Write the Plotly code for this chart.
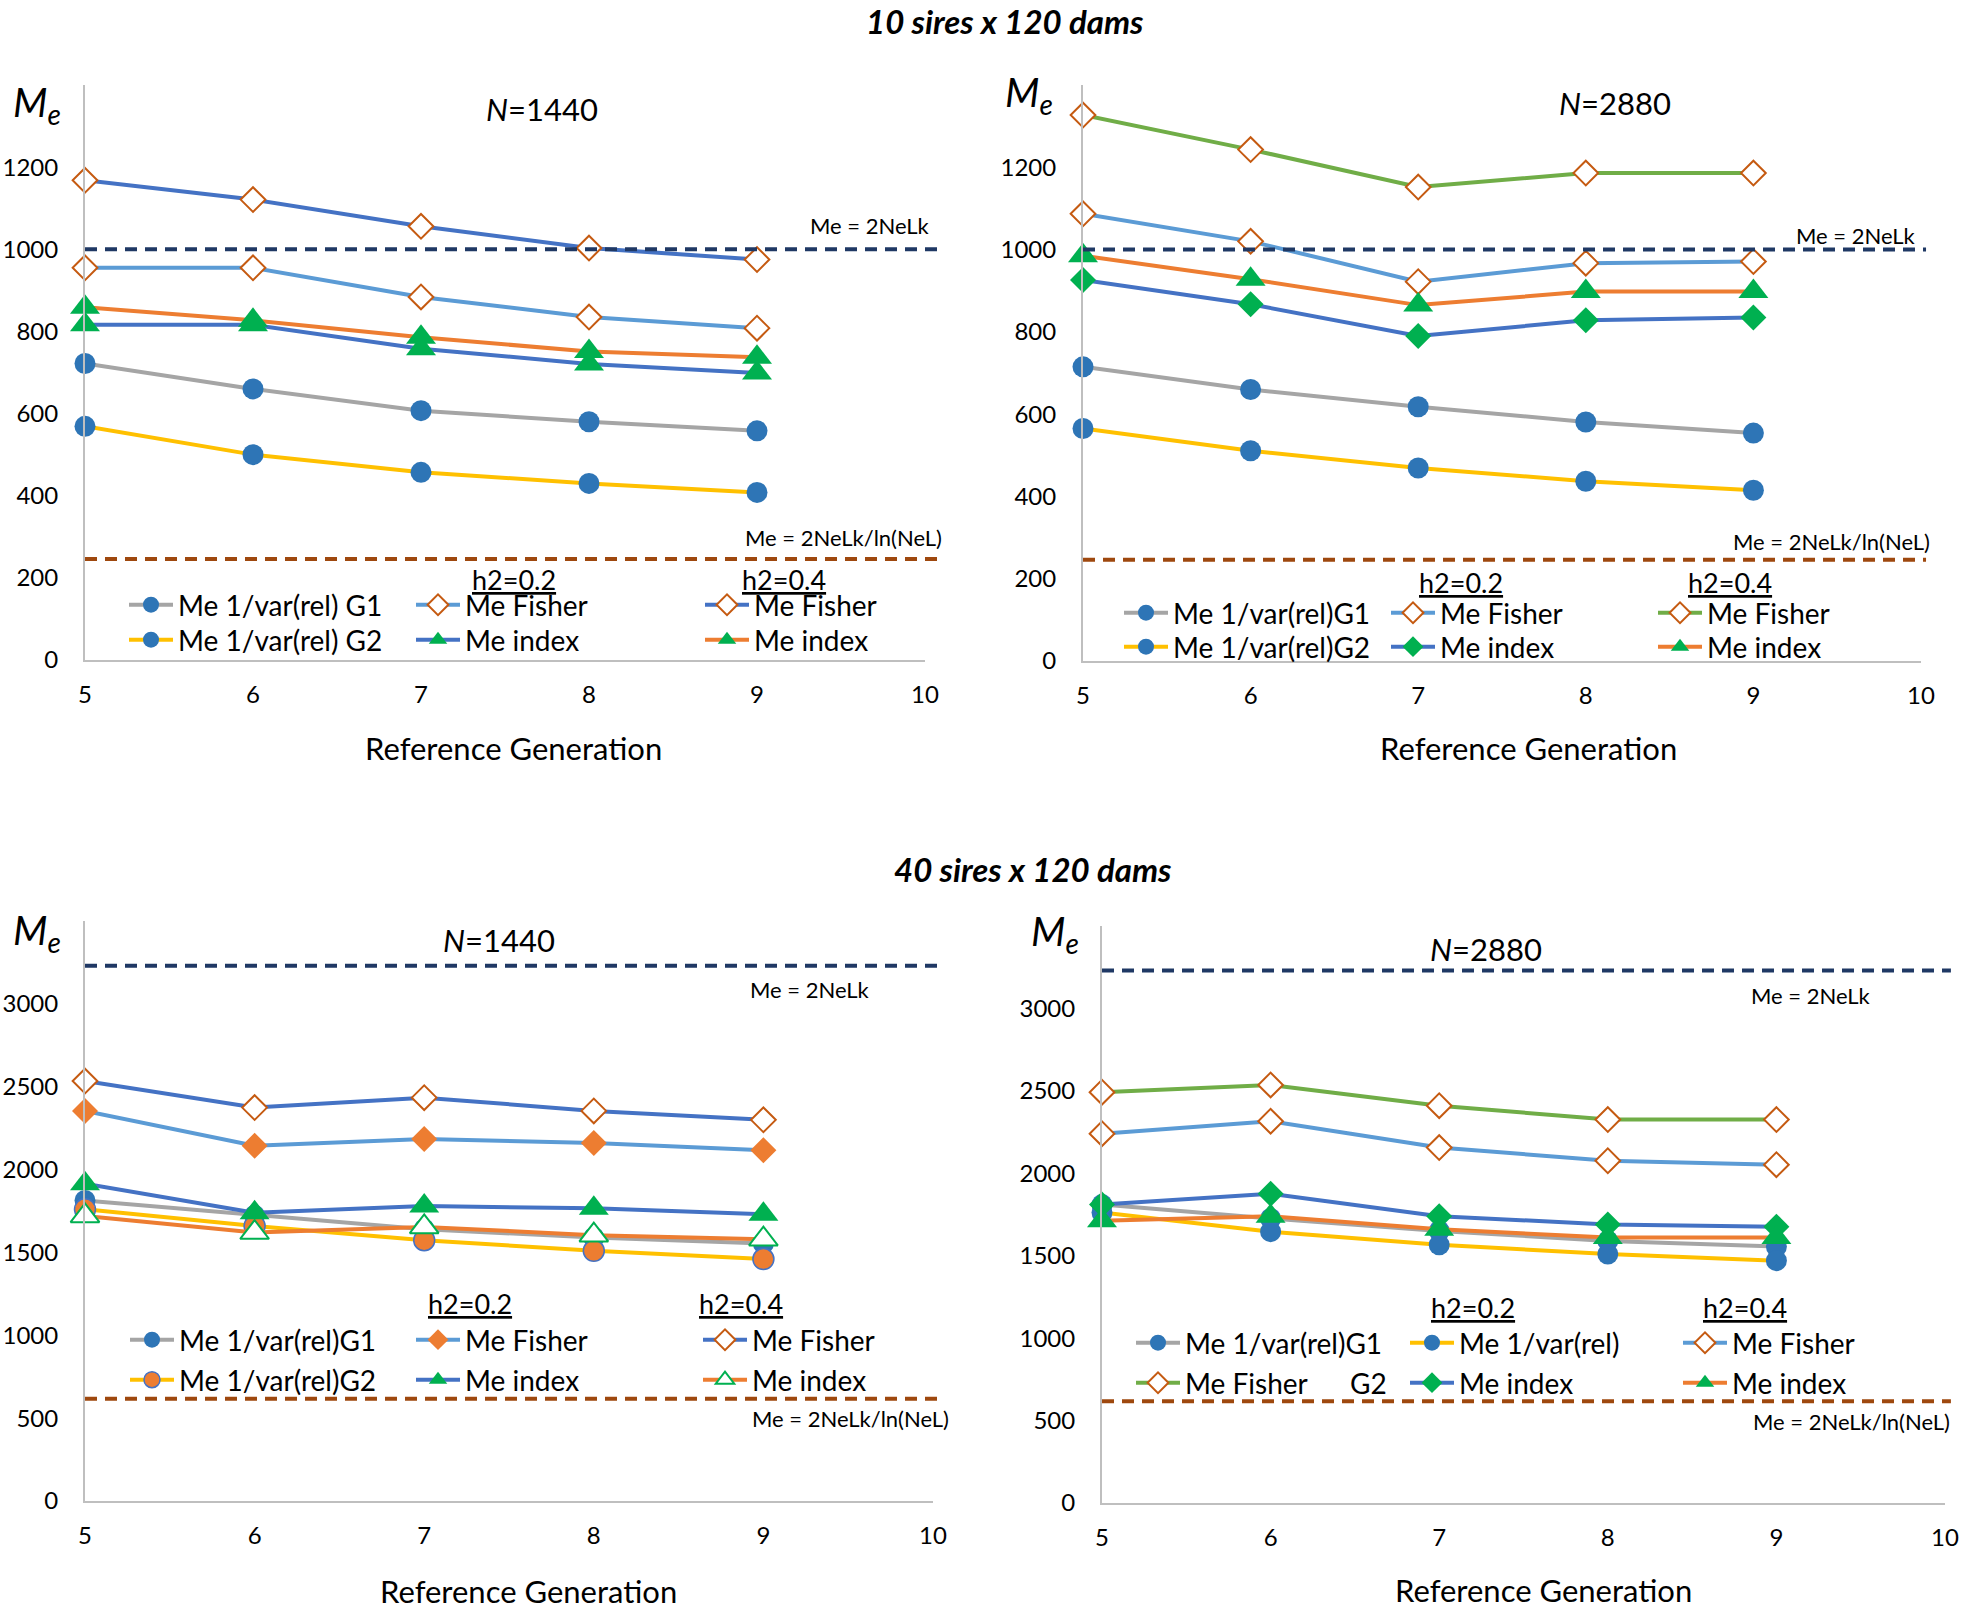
import plotly.graph_objects as go

# ---------------- data ----------------
GEN = [5, 6, 7, 8, 9]
X_TICKS = [5, 6, 7, 8, 9, 10]
TOP_Y_TICKS = [0, 200, 400, 600, 800, 1000, 1200]
LOW_Y_TICKS = [0, 500, 1000, 1500, 2000, 2500, 3000]

# Panel A: 10 sires x 120 dams, N=1440
A_G1 = [722, 660, 607, 580, 558]
A_G2 = [569, 500, 457, 430, 408]
A_F02 = [955, 955, 884, 835, 808]
A_I02 = [816, 816, 758, 721, 699]
A_F04 = [1168, 1121, 1056, 1003, 975]
A_I04 = [859, 827, 786, 751, 737]
A_REF = [1000, 246]

# Panel B: 10 sires x 120 dams, N=2880
B_G1 = [715, 660, 618, 581, 554]
B_G2 = [565, 511, 469, 437, 415]
B_F02 = [1087, 1020, 922, 967, 971]
B_I02 = [926, 867, 790, 828, 835]
B_F04 = [1327, 1243, 1152, 1186, 1186]
B_I04 = [985, 928, 865, 898, 898]
B_REF = [1000, 246]

# Panel C: 40 sires x 120 dams, N=1440
C_G1 = [1814, 1724, 1640, 1590, 1554]
C_G2 = [1760, 1660, 1574, 1510, 1460]
C_F02 = [2354, 2144, 2184, 2160, 2116]
C_I02 = [1914, 1740, 1780, 1766, 1730]
C_F04 = [2534, 2374, 2434, 2354, 2300]
C_I04 = [1720, 1620, 1654, 1604, 1580]
C_REF = [3230, 617]

# Panel D: 40 sires x 120 dams, N=2880
D_G1 = [1810, 1726, 1650, 1590, 1556]
D_G2 = [1762, 1646, 1566, 1510, 1470]
D_F02 = [2240, 2316, 2156, 2076, 2052]
D_I02 = [1810, 1876, 1740, 1690, 1676]
D_F04 = [2492, 2536, 2410, 2326, 2326]
D_I04 = [1712, 1740, 1660, 1610, 1610]
D_REF = [3230, 617]

# ---------------- style ----------------
FONT = "Lato"
GRAY = "#A5A5A5"
GOLD = "#FFC000"
LBLUE = "#5B9BD5"
BLUE = "#4472C4"
ORANGE = "#ED7D31"
LGREEN = "#70AD47"
MBLUE = "#2E75B6"
MGREEN = "#00B050"
DEDGE = "#C55A11"
NAVY = "#1F3864"
BROWN = "#9E480E"
AXIS = "#BFBFBF"

W, H, OFF = 1961, 1612, 0


def X(p):
    return (p - OFF) / W


def Y(p):
    return 1 - (p - OFF) / H


circ = dict(symbol="circle", size=21, color=MBLUE, line=dict(width=0))
circ_or = dict(symbol="circle", size=21, color=ORANGE, line=dict(color=BLUE, width=1.5))
dia_open = dict(symbol="diamond", size=19, color="white", line=dict(color=DEDGE, width=2))
dia_or = dict(symbol="diamond", size=20, color=ORANGE, line=dict(width=0))
dia_gr = dict(symbol="diamond", size=20, color=MGREEN, line=dict(width=0))
tri = dict(symbol="triangle-up", size=26, color=MGREEN, line=dict(width=0))
tri_open = dict(symbol="triangle-up", size=25, color="white", line=dict(color=MGREEN, width=2))

LEG_FS = 28
TICK_FS = 24

fig = go.Figure()
layout_legends = {}
leg_counter = [0]


def add_series(ax, ys, name, lcolor, marker, text_x, row_y):
    leg_counter[0] += 1
    n = leg_counter[0]
    lid = "legend" if n == 1 else f"legend{n}"
    fig.add_trace(go.Scatter(
        x=GEN, y=ys, name=name, mode="lines+markers",
        line=dict(color=lcolor, width=4),
        marker=marker, xaxis="x" + ax, yaxis="y" + ax,
        legend=lid, showlegend=True, cliponaxis=False,
    ))
    layout_legends[lid] = dict(
        x=X(text_x - 54), y=Y(row_y - 24), xanchor="left", yanchor="top",
        bgcolor="rgba(0,0,0,0)", borderwidth=0, itemwidth=44,
        font=dict(family=FONT, size=LEG_FS, color="black"),
    )


# Panel A
add_series("", A_G1, "Me 1/var(rel) G1", GRAY, circ, 178, 604)
add_series("", A_G2, "Me 1/var(rel) G2", GOLD, circ, 178, 639)
add_series("", A_F02, "Me Fisher", LBLUE, dia_open, 465, 604)
add_series("", A_I02, "Me index", BLUE, tri, 465, 639)
add_series("", A_F04, "Me Fisher", BLUE, dia_open, 754, 604)
add_series("", A_I04, "Me index", ORANGE, tri, 754, 639)

# Panel B
add_series("2", B_G1, "Me 1/var(rel)G1", GRAY, circ, 1173, 612)
add_series("2", B_G2, "Me 1/var(rel)G2", GOLD, circ, 1173, 646)
add_series("2", B_F02, "Me Fisher", LBLUE, dia_open, 1440, 612)
add_series("2", B_I02, "Me index", BLUE, dia_gr, 1440, 646)
add_series("2", B_F04, "Me Fisher", LGREEN, dia_open, 1707, 612)
add_series("2", B_I04, "Me index", ORANGE, tri, 1707, 646)

# Panel C
add_series("3", C_G1, "Me 1/var(rel)G1", GRAY, circ, 179, 1339)
add_series("3", C_G2, "Me 1/var(rel)G2", GOLD, circ_or, 179, 1379)
add_series("3", C_F02, "Me Fisher", LBLUE, dia_or, 465, 1339)
add_series("3", C_I02, "Me index", BLUE, tri, 465, 1379)
add_series("3", C_F04, "Me Fisher", BLUE, dia_open, 752, 1339)
add_series("3", C_I04, "Me index", ORANGE, tri_open, 752, 1379)

# Panel D
add_series("4", D_G1, "Me 1/var(rel)G1", GRAY, circ, 1185, 1342)
add_series("4", D_G2, "Me 1/var(rel)", GOLD, circ, 1459, 1342)
add_series("4", D_F02, "Me Fisher", LBLUE, dia_open, 1732, 1342)
add_series("4", D_F04, "Me Fisher", LGREEN, dia_open, 1185, 1382)
add_series("4", D_I02, "Me index", BLUE, dia_gr, 1459, 1382)
add_series("4", D_I04, "Me index", ORANGE, tri, 1732, 1382)


def xaxis(domain, anchor):
    return dict(domain=domain, anchor=anchor, range=[5, 10], tickvals=X_TICKS,
                showline=True, linecolor=AXIS, linewidth=2, ticks="",
                showgrid=False, zeroline=False, ticklabelstandoff=12,
                automargin=False,
                tickfont=dict(family=FONT, size=TICK_FS, color="black"))


def yaxis(domain, anchor, rng, tv):
    return dict(domain=domain, anchor=anchor, range=rng, tickvals=tv,
                showline=True, linecolor=AXIS, linewidth=2, ticks="",
                showgrid=False, zeroline=False, ticklabelstandoff=20,
                automargin=False,
                tickfont=dict(family=FONT, size=TICK_FS, color="black"))


shapes = []


def ref_lines(ax, refs, x1):
    for val, col in zip(refs, [NAVY, BROWN]):
        shapes.append(dict(type="line", xref=("x" + ax + " domain"), yref="y" + ax,
                           x0=0, x1=x1, y0=val, y1=val,
                           line=dict(color=col, width=4, dash="12px,8px")))


ref_lines("", A_REF, 1.018)
ref_lines("2", B_REF, 1.006)
ref_lines("3", C_REF, 1.006)
ref_lines("4", D_REF, 1.007)

annotations = []


def ann(text, x, y, size):
    annotations.append(dict(text=text, x=X(x), y=Y(y), xref="paper", yref="paper",
                            xanchor="center", yanchor="middle", showarrow=False,
                            font=dict(family=FONT, size=size, color="black")))


# titles
ann("<b><i>10 sires x 120 dams</i></b>", 1004, 21, 33)
ann("<b><i>40 sires x 120 dams</i></b>", 1032, 869, 33)
# N labels
ann("<i>N</i>=1440", 542, 109, 31)
ann("<i>N</i>=2880", 1615, 103, 31)
ann("<i>N</i>=1440", 499, 940, 31)
ann("<i>N</i>=2880", 1486, 949, 31)
# Me labels
for (mx, my) in [(37, 105), (1029, 94), (37, 932), (1055, 933)]:
    ann("<i>M<sub>e</sub></i>", mx, my, 40)
# axis titles
for (tx, ty) in [(513, 748), (1528, 748), (528, 1591), (1543, 1590)]:
    ann("Reference Generation", tx, ty, 31)
# reference line labels
ann("Me = 2NeLk", 870, 225, 22)
ann("Me = 2NeLk/ln(NeL)", 843, 537, 22)
ann("Me = 2NeLk", 1856, 236, 22)
ann("Me = 2NeLk/ln(NeL)", 1831, 541, 22)
ann("Me = 2NeLk", 810, 989, 22)
ann("Me = 2NeLk/ln(NeL)", 850, 1418, 22)
ann("Me = 2NeLk", 1811, 995, 22)
ann("Me = 2NeLk/ln(NeL)", 1851, 1421, 22)
# h2 headers
for (hx, hy, t) in [(514, 580, "0.2"), (784, 580, "0.4"),
                    (1461, 582, "0.2"), (1730, 582, "0.4"),
                    (470, 1303, "0.2"), (741, 1303, "0.4"),
                    (1473, 1307, "0.2"), (1745, 1307, "0.4")]:
    ann("<u>h2=" + t + "</u>", hx, hy, 27)
ann("G2", 1368, 1383, LEG_FS)

layout = dict(
    width=W, height=H, margin=dict(l=0, r=0, t=0, b=0, autoexpand=False),
    paper_bgcolor="white", plot_bgcolor="white",
    font=dict(family=FONT, color="black"),
    xaxis=xaxis([X(85), X(925)], "y"),
    yaxis=yaxis([Y(660), Y(85)], "x", [0, 1400], TOP_Y_TICKS),
    xaxis2=xaxis([X(1083), X(1921)], "y2"),
    yaxis2=yaxis([Y(661), Y(85)], "x2", [0, 1400], TOP_Y_TICKS),
    xaxis3=xaxis([X(85), X(933)], "y3"),
    yaxis3=yaxis([Y(1501), Y(921)], "x3", [0, 3500], LOW_Y_TICKS),
    xaxis4=xaxis([X(1102), X(1945)], "y4"),
    yaxis4=yaxis([Y(1503), Y(926)], "x4", [0, 3500], LOW_Y_TICKS),
    shapes=shapes, annotations=annotations,
)
layout.update(layout_legends)
fig.update_layout(**layout)

# remove the browser's default 8px body margin so the figure fills the window
fig.write_html("out.html", config={"displayModeBar": False},
               post_script="document.body.style.margin='0';document.body.style.overflow='hidden';")
